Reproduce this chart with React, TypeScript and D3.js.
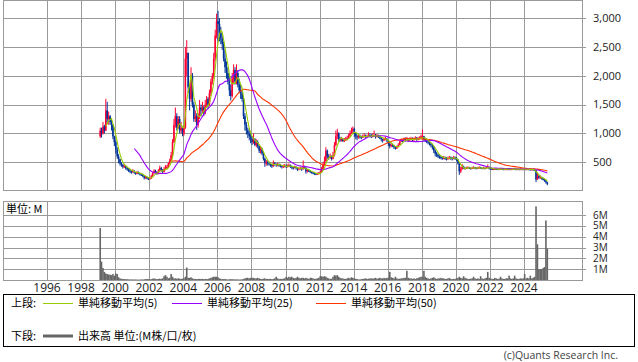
import * as d3 from "d3";

// monthly bars, first bar = Feb 1999
const firstYear = 1999;
const firstMonth = 1;
const firstOpen = 950;

const closes = [
  1050, 1000, 1120, 1050, 1400, 1250, 1300, 1200, 1150, 950, 850,
  720, 600, 550, 480, 450, 420, 430, 400, 380, 360, 340, 330,
  350, 320, 300, 330, 310, 290, 280, 260, 230, 240, 220, 210,
  220, 260, 310, 350, 330, 300, 350, 400, 370, 330, 380, 400,
  420, 480, 520, 620, 850, 1150, 1300, 1100, 1250, 1050, 1100, 1000,
  1100, 2300, 2400, 1800, 1600, 2000, 1500, 1250, 1300, 1150, 1300, 1450,
  1400, 1450, 1350, 1500, 1600, 1500, 1700, 1900, 2000, 2300, 2700, 2950,
  2900, 2750, 2650, 2550, 2300, 2150, 2050, 1900, 1750, 1650, 1950, 2100,
  1900, 2050, 1850, 1750, 1700, 1600, 1300, 1150, 1050, 1000, 950, 900,
  850, 900, 800, 850, 780, 700, 720, 650, 560, 480, 500, 480,
  470, 450, 430, 480, 470, 450, 460, 450, 440, 420, 430, 440,
  420, 430, 450, 430, 410, 400, 420, 400, 380, 390, 400, 380,
  420, 400, 340, 360, 350, 330, 320, 310, 300, 290, 300, 310,
  330, 380, 450, 520, 700, 600, 580, 600, 560, 620, 800, 950,
  1000, 900, 880, 900, 870, 880, 900, 920, 960, 1000, 1050, 1080,
  1000, 950, 930, 960, 940, 930, 950, 960, 940, 950, 970, 960,
  950, 960, 970, 940, 960, 950, 930, 900, 880, 900, 910, 880,
  820, 780, 800, 790, 760, 740, 760, 800, 860, 880, 870, 900,
  890, 900, 880, 900, 910, 890, 900, 920, 900, 910, 920, 950,
  950, 900, 880, 860, 840, 820, 800, 760, 700, 650, 630, 600,
  590, 580, 570, 580, 570, 560, 570, 580, 570, 560, 580, 570,
  540, 480, 340, 380, 420, 400, 390, 400, 410, 400, 390, 400,
  410, 400, 390, 400, 410, 400, 390, 400, 390, 410, 420, 390,
  385, 380, 380, 385, 380, 375, 380, 385, 380, 375, 380, 380,
  380, 375, 380, 380, 385, 380, 375, 380, 375, 380, 380, 375,
  380, 375, 380, 375, 370, 375, 370, 360, 200, 260, 230, 240,
  210, 200, 180, 150, 120,
];

const highs = [
  1100, 1100, 1200, 1150, 1600, 1550, 1380, 1320, 1250, 1160, 960,
  880, 760, 640, 560, 500, 470, 470, 450, 420, 400, 380, 360,
  380, 360, 330, 350, 340, 320, 300, 290, 270, 260, 250, 230,
  240, 280, 330, 380, 370, 340, 380, 440, 420, 380, 420, 450,
  450, 500, 560, 680, 900, 1250, 1450, 1350, 1300, 1300, 1200, 1120,
  1150, 2500, 2620, 2400, 1850, 2150, 2050, 1550, 1400, 1350, 1350, 1580,
  1500, 1550, 1480, 1580, 1650, 1630, 1760, 1950, 2050, 2400, 2800, 3080,
  3130, 3000, 2850, 2750, 2600, 2450, 2250, 2150, 2000, 1850, 2050, 2200,
  2150, 2200, 2100, 1950, 1850, 1750, 1650, 1350, 1200, 1100, 1080, 1000,
  950, 1000, 920, 900, 880, 800, 780, 750, 680, 580, 540, 530,
  510, 490, 470, 530, 500, 480, 490, 480, 470, 450, 460, 470,
  460, 460, 480, 460, 440, 420, 440, 430, 410, 410, 420, 410,
  530, 440, 410, 380, 370, 360, 340, 330, 320, 310, 320, 330,
  350, 420, 500, 600, 760, 720, 640, 650, 620, 680, 850, 1050,
  1080, 1020, 940, 940, 920, 920, 940, 960, 1000, 1050, 1100, 1120,
  1100, 1020, 980, 990, 980, 960, 980, 1000, 980, 980, 1020, 1000,
  990, 1000, 1050, 990, 990, 980, 970, 940, 910, 930, 940, 920,
  890, 850, 830, 820, 800, 780, 790, 830, 880, 910, 900, 930,
  930, 940, 920, 930, 940, 930, 930, 950, 940, 940, 950, 980,
  1070, 960, 920, 900, 880, 860, 840, 820, 780, 720, 680, 650,
  620, 610, 600, 610, 600, 590, 600, 610, 600, 590, 610, 600,
  590, 560, 490, 420, 470, 440, 420, 420, 430, 420, 410, 420,
  430, 420, 410, 420, 430, 420, 410, 420, 410, 430, 460, 420,
  400, 395, 395, 400, 395, 390, 395, 400, 395, 390, 395, 395,
  395, 390, 395, 395, 400, 395, 390, 395, 390, 395, 395, 390,
  395, 390, 395, 390, 385, 390, 385, 380, 365, 320, 280, 270,
  250, 230, 210, 190, 160,
];

const lows = [
  920, 930, 980, 1000, 1040, 1180, 1150, 1150, 1050, 900, 780,
  650, 560, 480, 440, 420, 390, 400, 370, 350, 330, 310, 300,
  310, 300, 280, 290, 290, 270, 260, 240, 200, 210, 200, 190,
  200, 210, 250, 300, 300, 280, 290, 340, 340, 310, 320, 360,
  380, 400, 460, 500, 600, 830, 1100, 1050, 1080, 1000, 1000, 950,
  960, 1080, 2000, 1700, 1400, 1550, 1450, 1200, 1200, 1060, 1100, 1250,
  1300, 1350, 1300, 1330, 1450, 1420, 1480, 1650, 1850, 1950, 2250, 2650,
  2600, 2600, 2550, 2450, 2250, 2050, 1950, 1850, 1650, 1570, 1620, 1850,
  1850, 1850, 1800, 1700, 1600, 1550, 1250, 1050, 980, 920, 880, 830,
  800, 820, 780, 760, 740, 660, 650, 620, 530, 420, 440, 440,
  440, 420, 400, 420, 440, 420, 430, 420, 410, 390, 400, 410,
  400, 410, 420, 400, 380, 370, 390, 370, 350, 360, 370, 350,
  370, 380, 300, 320, 330, 310, 300, 290, 280, 275, 280, 290,
  300, 320, 370, 440, 500, 560, 540, 560, 530, 550, 600, 780,
  900, 860, 850, 860, 850, 850, 870, 880, 910, 940, 990, 1000,
  940, 900, 880, 910, 910, 900, 920, 930, 910, 920, 940, 930,
  920, 930, 940, 910, 930, 920, 900, 860, 840, 870, 880, 850,
  780, 740, 760, 760, 730, 720, 730, 760, 800, 850, 840, 860,
  860, 870, 850, 870, 880, 860, 870, 890, 870, 880, 890, 900,
  900, 870, 850, 830, 810, 790, 760, 720, 660, 600, 590, 570,
  560, 550, 540, 550, 540, 530, 540, 550, 540, 530, 550, 540,
  520, 460, 280, 310, 370, 380, 370, 380, 390, 380, 370, 380,
  390, 380, 375, 380, 390, 385, 375, 380, 375, 390, 395, 375,
  370, 365, 368, 370, 368, 365, 368, 370, 368, 362, 368, 368,
  368, 362, 368, 368, 372, 368, 362, 368, 362, 368, 368, 362,
  365, 362, 368, 362, 358, 362, 358, 345, 155, 195, 210, 210,
  195, 185, 160, 130, 100,
];

// volume in millions
const volumes = [
  4.8, 1.7, 1.1, 0.75, 0.6, 0.55, 0.5, 0.5, 0.45, 0.55, 0.4,
  0.6, 0.55, 0.25, 0.15, 0.1, 0.1, 0.08, 0.08, 0.07, 0.06, 0.05, 0.05,
  0.05, 0.04, 0.05, 0.04, 0.03, 0.04, 0.05, 0.04, 0.06, 0.08, 0.1, 0.08,
  0.06, 0.08, 0.12, 0.15, 0.1, 0.08, 0.1, 0.12, 0.1, 0.15, 0.35, 0.45,
  0.3, 0.15, 0.2, 0.55, 0.3, 0.15, 0.15, 0.12, 0.15, 0.12, 0.1, 0.12,
  0.15, 0.3, 1.15, 0.2, 0.2, 0.25, 0.15, 0.1, 0.1, 0.08, 0.1, 0.1,
  0.1, 0.1, 0.08, 0.1, 0.08, 0.1, 0.15, 0.2, 0.25, 0.3, 0.3, 0.3,
  0.25, 0.15, 0.1, 0.08, 0.08, 0.1, 0.06, 0.05, 0.06, 0.08, 0.07, 0.06,
  0.06, 0.05, 0.05, 0.04, 0.05, 0.06, 0.1, 0.15, 0.2, 0.2, 0.15, 0.2,
  0.2, 0.2, 0.15, 0.15, 0.2, 0.15, 0.1, 0.1, 0.12, 0.15, 0.1, 0.1,
  0.1, 0.1, 0.08, 0.1, 0.15, 0.3, 0.15, 0.1, 0.1, 0.1, 0.12, 0.15,
  0.3, 0.2, 0.3, 0.25, 0.3, 0.2, 0.15, 0.2, 0.3, 0.2, 0.15, 0.2,
  0.2, 0.15, 0.2, 0.15, 0.1, 0.2, 0.2, 0.15, 0.1, 0.12, 0.15, 0.2,
  0.35, 0.35, 0.3, 0.35, 0.3, 0.2, 0.15, 0.1, 0.12, 0.3, 0.45, 0.4,
  0.45, 0.3, 0.2, 0.15, 0.15, 0.1, 0.1, 0.15, 0.2, 0.15, 0.25, 0.2,
  0.15, 0.1, 0.1, 0.05, 0.05, 0.08, 0.1, 0.12, 0.15, 0.1, 0.12, 0.15,
  0.15, 0.12, 0.15, 0.2, 0.12, 0.15, 0.2, 0.15, 0.15, 0.2, 0.15, 0.2,
  0.2, 0.75, 0.25, 0.2, 0.15, 0.3, 0.15, 0.1, 0.12, 0.15, 0.15, 0.2,
  0.2, 0.85, 0.2, 0.15, 0.15, 0.1, 0.15, 0.1, 0.15, 0.2, 0.25, 0.3,
  0.3, 0.85, 0.3, 0.2, 0.15, 0.1, 0.15, 0.2, 0.25, 0.15, 0.1, 0.15,
  0.15, 0.2, 0.15, 0.15, 0.1, 0.1, 0.15, 0.2, 0.1, 0.08, 0.1, 0.1,
  0.15, 0.2, 0.3, 0.2, 0.15, 0.35, 0.2, 0.15, 0.1, 0.1, 0.12, 0.15,
  0.3, 0.15, 0.1, 0.15, 0.1, 0.35, 0.15, 0.1, 0.15, 0.2, 0.75, 0.2,
  0.15, 0.1, 0.1, 0.2, 0.15, 0.1, 0.12, 0.3, 0.15, 0.1, 0.1, 0.15,
  0.15, 0.4, 0.15, 0.1, 0.15, 0.4, 0.15, 0.1, 0.1, 0.15, 0.12, 0.15,
  0.55, 0.15, 0.2, 0.15, 0.4, 0.15, 0.2, 0.3, 6.8, 3.3, 1.0, 1.0,
  1.0, 1.1, 1.2, 5.5, 2.9,
];

const yearTicks = [1996, 1998, 2000, 2002, 2004, 2006, 2008, 2010, 2012, 2014, 2016, 2018, 2020, 2022, 2024];
const priceTicks = [500, 1000, 1500, 2000, 2500, 3000];
const volumeTicks = [1, 2, 3, 4, 5, 6];
const maPeriods = [5, 25, 50];
const maColors = ["#99cc00", "#9900ff", "#ff3300"];
const maLabels = ["単純移動平均(5)", "単純移動平均(25)", "単純移動平均(50)"];

const UP = "#ff0033";
const DOWN = "#003399";
const GRID = "#999999";
const FONT = "'Open Sans', 'DejaVu Sans', sans-serif";
const JP = "'Noto Sans CJK JP', sans-serif";

const L = 3;
const R = 582;
const PT = 1;
const PB = 190;
const VT = 201;
const VB = 280;

const x = d3
  .scaleUtc()
  .domain([new Date(Date.UTC(1996, 0, 1)), new Date(Date.UTC(2024, 0, 1))])
  .range([47, 524]);
const yPrice = d3.scaleLinear().domain([0, 3300]).range([191, 1]);
const yVol = d3.scaleLinear().domain([0, 7.3]).range([VB, VT]);

const dates = closes.map((_, i) => new Date(Date.UTC(firstYear, firstMonth + i, 15)));

const bars = closes.map((c, i) => ({
  date: dates[i],
  open: i === 0 ? firstOpen : closes[i - 1],
  close: c,
  high: highs[i],
  low: lows[i],
  vol: volumes[i],
}));

const movingAverage = (n: number) =>
  closes
    .map((_, i) => (i < n - 1 ? null : { date: dates[i], v: d3.mean(closes.slice(i - n + 1, i + 1)) as number }))
    .filter((d): d is { date: Date; v: number } => d !== null);

const snap = (v: number) => Math.round(v) + 0.5;

export default function App() {
  const line = d3
    .line<{ date: Date; v: number }>()
    .x((d) => x(d.date))
    .y((d) => yPrice(d.v));
  const gridX = yearTicks.map((yr) => snap(x(new Date(Date.UTC(yr, 0, 1)))));

  return (
    <svg
      width={638}
      height={362}
      style={{ position: "absolute", left: 0, top: 0, background: "#fff" }}
    >
      <defs>
        <clipPath id="priceClip">
          <rect x={L} y={PT} width={R - L} height={PB - PT} />
        </clipPath>
        <clipPath id="volClip">
          <rect x={L} y={VT} width={R - L} height={VB - VT} />
        </clipPath>
      </defs>

      {/* price panel grid */}
      <g stroke={GRID} strokeWidth={1} shapeRendering="crispEdges">
        {priceTicks.map((t) => (
          <line key={t} x1={L} x2={R + 4} y1={snap(yPrice(t))} y2={snap(yPrice(t))} />
        ))}
        {gridX.map((gx) => (
          <line key={gx} x1={gx} x2={gx} y1={PT} y2={PB} />
        ))}
        <rect x={L + 0.5} y={PT - 0.5} width={R - L} height={PB - PT + 0.5} fill="none" />
      </g>

      <g clipPath="url(#priceClip)">
        {bars.map((b, i) => {
          const col = b.close >= b.open ? UP : DOWN;
          const cx = x(b.date);
          const top = yPrice(Math.max(b.open, b.close));
          const bot = yPrice(Math.min(b.open, b.close));
          return (
            <g key={i}>
              <line x1={cx} x2={cx} y1={yPrice(b.high)} y2={yPrice(b.low)} stroke={col} strokeWidth={1} />
              <rect x={cx - 0.8} y={top} width={1.6} height={Math.max(1, bot - top)} fill={col} />
            </g>
          );
        })}
        {[2, 1, 0].map((k) => (
          <path
            key={k}
            d={line(movingAverage(maPeriods[k])) || ""}
            fill="none"
            stroke={maColors[k]}
            strokeWidth={1.1}
          />
        ))}
      </g>

      <g fontFamily={FONT} fontSize={11} fill="#222">
        {priceTicks.map((t) => (
          <text key={t} x={593} y={yPrice(t)} dy="0.35em">
            {d3.format(",")(t)}
          </text>
        ))}
      </g>

      {/* volume panel */}
      <g stroke={GRID} strokeWidth={1} shapeRendering="crispEdges">
        {volumeTicks.map((t) => (
          <line key={t} x1={L} x2={R + 4} y1={snap(yVol(t))} y2={snap(yVol(t))} />
        ))}
        {gridX.map((gx) => (
          <line key={gx} x1={gx} x2={gx} y1={VT} y2={VB} />
        ))}
        <rect x={L + 0.5} y={VT + 0.5} width={R - L} height={VB - VT} fill="none" />
      </g>
      <g clipPath="url(#volClip)" fill="#666666">
        {bars.map((b, i) => (
          <rect key={i} x={x(b.date) - 0.8} y={yVol(b.vol)} width={1.6} height={VB - yVol(b.vol)} />
        ))}
      </g>
      <text x={6} y={213} fontFamily={JP} fontSize={11} fill="#000">
        単位: M
      </text>
      <g fontFamily={FONT} fontSize={10} fill="#222">
        {volumeTicks.map((t) => (
          <text key={t} x={593} y={yVol(t)} dy="0.35em">
            {t}M
          </text>
        ))}
      </g>

      {/* year labels */}
      <g fontFamily={FONT} fontSize={12} fill="#222" textAnchor="middle">
        {yearTicks.map((yr) => (
          <text key={yr} x={x(new Date(Date.UTC(yr, 0, 1)))} y={292}>
            {yr}
          </text>
        ))}
      </g>

      {/* legend */}
      <rect x={3.5} y={294.5} width={631} height={52} fill="none" stroke="#000" strokeWidth={1} />
      <g fontFamily={JP} fontSize={11} fill="#000">
        <text x={11} y={307}>上段:</text>
        {maLabels.map((lbl, k) => {
          const lx = [43, 172, 316][k];
          return (
            <g key={k}>
              <line x1={lx} x2={lx + 30} y1={303.5} y2={303.5} stroke={maColors[k]} strokeWidth={1} />
              <text x={lx + 35} y={307}>
                {lbl}
              </text>
            </g>
          );
        })}
        <text x={11} y={340}>下段:</text>
        <line x1={43} x2={73} y1={336} y2={336} stroke="#666666" strokeWidth={3} />
        <text x={78} y={340}>出来高 単位:(M株/口/枚)</text>
      </g>
      <text x={618} y={359} textAnchor="end" fontFamily={FONT} fontSize={10.5} fill="#444">
        (c)Quants Research Inc.
      </text>
    </svg>
  );
}
